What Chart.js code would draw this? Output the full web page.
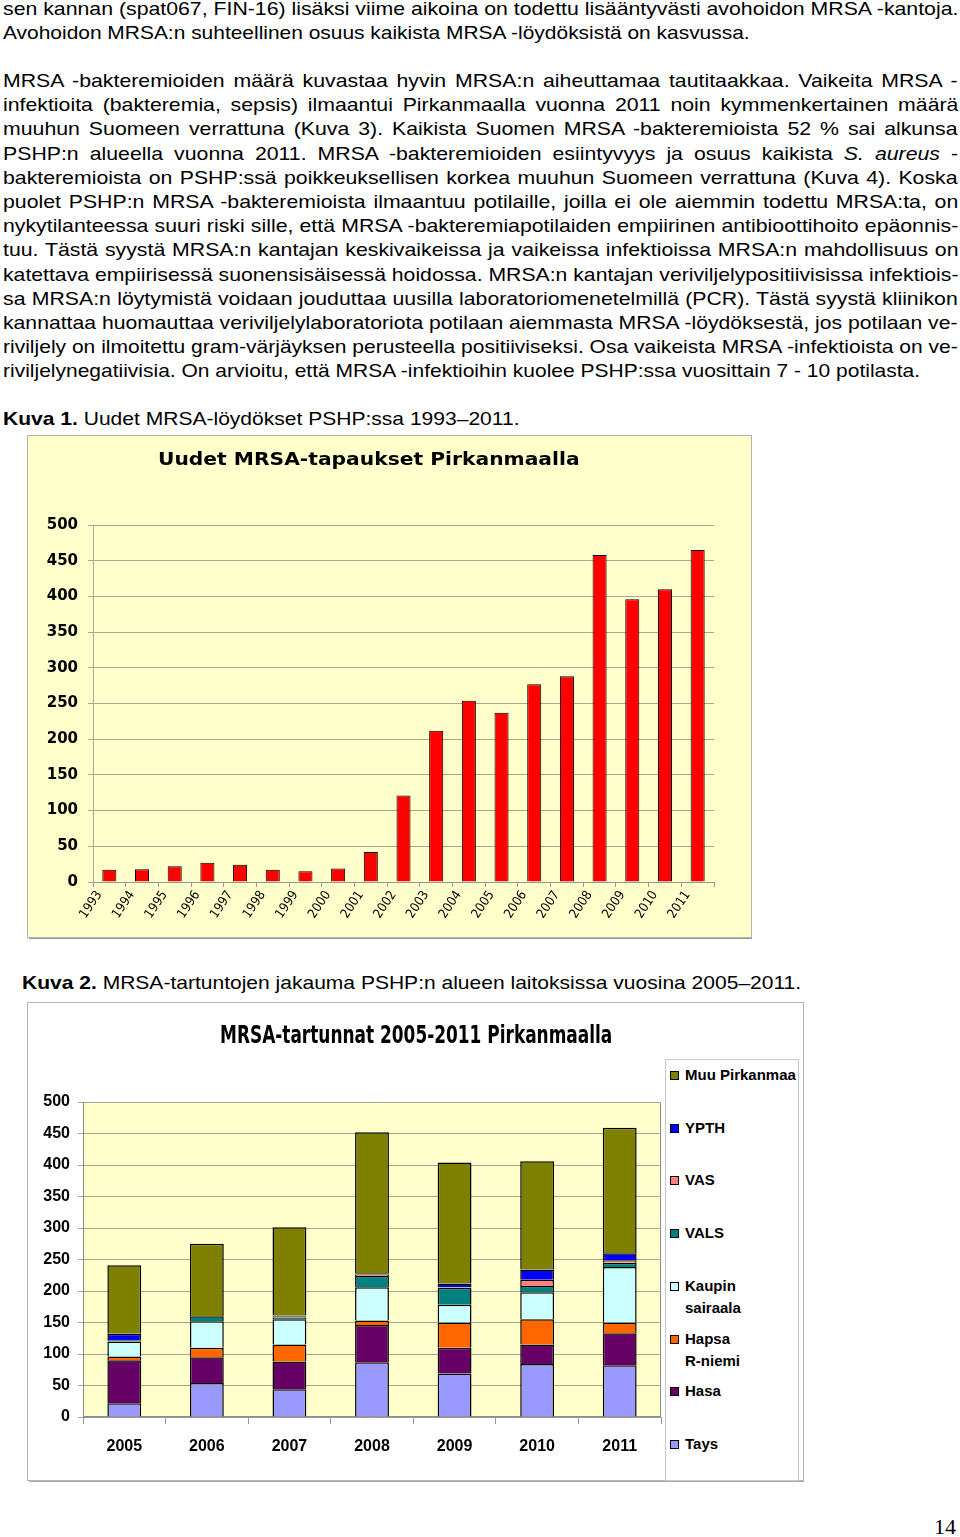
<!DOCTYPE html>
<html lang="fi">
<head>
<meta charset="utf-8">
<script src="https://cdn.jsdelivr.net/npm/chart.js@4.4.1/dist/chart.umd.min.js"></script>
<style>
html,body{margin:0;padding:0;background:#fff;}
body{width:960px;height:1537px;position:relative;overflow:hidden;font-family:"Liberation Sans",Arial,sans-serif;color:#000;}
.ln{position:absolute;left:3px;height:24px;line-height:24px;font-size:19px;white-space:nowrap;transform-origin:0 50%;}
#box1{position:absolute;left:28px;top:436px;width:723px;height:501px;background:#FFFFCC;outline:1px solid #b4b4b4;box-shadow:1px 2px 0 #999;}
#box2{position:absolute;left:28px;top:1003px;width:775px;height:477px;background:#fff;outline:1px solid #b4b4b4;box-shadow:1px 2px 0 #aaa;}
#title1{position:absolute;left:158px;top:448px;height:22px;line-height:22px;font-family:"DejaVu Sans",sans-serif;font-weight:bold;font-size:18px;white-space:nowrap;transform-origin:0 50%;}
#title2{position:absolute;left:220px;top:1020px;height:30px;line-height:30px;font-family:"Liberation Sans Narrow","Arial Narrow","DejaVu Sans Condensed",sans-serif;font-weight:bold;font-size:25px;white-space:nowrap;transform-origin:0 50%;}
#legend{position:absolute;left:666px;top:1060px;width:132px;height:420px;background:#fff;outline:1px solid #c8c8c8;}
.li{position:absolute;left:4px;font-family:"Liberation Sans",Arial,sans-serif;font-weight:bold;font-size:15px;line-height:22px;white-space:pre;}
.li i{position:absolute;left:0;top:7px;width:7px;height:7px;border:1px solid #000;}
.li span{display:block;margin-left:15px;}
#page{position:absolute;left:934px;top:1514px;font-family:"Liberation Serif","DejaVu Serif",serif;font-size:22px;line-height:26px;}
canvas{position:absolute;left:0;top:0;}
</style>
</head>
<body>
<div class="ln" id="first" data-w="955" style="top:-3px">sen kannan (spat067, FIN-16) lisäksi viime aikoina on todettu lisääntyvästi avohoidon MRSA -kantoja.</div>
<div class="ln" data-w="747" style="top:21px">Avohoidon MRSA:n suhteellinen osuus kaikista MRSA -löydöksistä on kasvussa.</div>
<div class="ln" data-w="955" data-j="1" style="top:69px">MRSA -bakteremioiden määrä kuvastaa hyvin MRSA:n aiheuttamaa tautitaakkaa. Vaikeita MRSA -</div>
<div class="ln" data-w="955" data-j="1" style="top:93px">infektioita (bakteremia, sepsis) ilmaantui Pirkanmaalla vuonna 2011 noin kymmenkertainen määrä</div>
<div class="ln" data-w="955" data-j="1" style="top:117px">muuhun Suomeen verrattuna (Kuva 3). Kaikista Suomen MRSA -bakteremioista 52 % sai alkunsa</div>
<div class="ln" data-w="955" data-j="1" style="top:142px">PSHP:n alueella vuonna 2011. MRSA -bakteremioiden esiintyvyys ja osuus kaikista <i>S. aureus</i> -</div>
<div class="ln" data-w="955" data-j="1" style="top:166px">bakteremioista on PSHP:ssä poikkeuksellisen korkea muuhun Suomeen verrattuna (Kuva 4). Koska</div>
<div class="ln" data-w="955" data-j="1" style="top:190px">puolet PSHP:n MRSA -bakteremioista ilmaantuu potilaille, joilla ei ole aiemmin todettu MRSA:ta, on</div>
<div class="ln" data-w="955" data-j="1" style="top:214px">nykytilanteessa suuri riski sille, että MRSA -bakteremiapotilaiden empiirinen antibioottihoito epäonnis-</div>
<div class="ln" data-w="955" data-j="1" style="top:238px">tuu. Tästä syystä MRSA:n kantajan keskivaikeissa ja vaikeissa infektioissa MRSA:n mahdollisuus on</div>
<div class="ln" data-w="955" data-j="1" style="top:263px">katettava empiirisessä suonensisäisessä hoidossa. MRSA:n kantajan veriviljelypositiivisissa infektiois-</div>
<div class="ln" data-w="955" data-j="1" style="top:287px">sa MRSA:n löytymistä voidaan jouduttaa uusilla laboratoriomenetelmillä (PCR). Tästä syystä kliinikon</div>
<div class="ln" data-w="955" data-j="1" style="top:311px">kannattaa huomauttaa veriviljelylaboratoriota potilaan aiemmasta MRSA -löydöksestä, jos potilaan ve-</div>
<div class="ln" data-w="955" data-j="1" style="top:335px">riviljely on ilmoitettu gram-värjäyksen perusteella positiiviseksi. Osa vaikeista MRSA -infektioista on ve-</div>
<div class="ln" data-w="917" style="top:359px">riviljelynegatiivisia. On arvioitu, että MRSA -infektioihin kuolee PSHP:ssa vuosittain 7 - 10 potilasta.</div>
<div class="ln" data-w="516" style="top:407px"><b>Kuva 1.</b> Uudet MRSA-löydökset PSHP:ssa 1993–2011.</div>

<div id="box1"><canvas id="c1" width="723" height="501"></canvas></div>
<div id="title1" data-w="422">Uudet MRSA-tapaukset Pirkanmaalla</div>

<div class="ln" data-w="779" style="top:971px;left:22px"><b>Kuva 2.</b> MRSA-tartuntojen jakauma PSHP:n alueen laitoksissa vuosina 2005–2011.</div>

<div id="box2"><canvas id="c2" width="775" height="477"></canvas></div>
<div id="title2" data-w="392">MRSA-tartunnat 2005-2011 Pirkanmaalla</div>
<div id="legend"></div>

<div id="page">14</div>

<script>
// Kuva 1: uudet MRSA-löydökset vuosittain
const years1 = ['1993','1994','1995','1996','1997','1998','1999','2000','2001','2002',
  '2003','2004','2005','2006','2007','2008','2009','2010','2011'];
const newCases = [17, 18, 22, 27, 24, 17, 15, 19, 42, 121, 212, 254, 237, 277, 288, 458, 396, 410, 465];

// Kuva 2: tartunnat laitoksittain
const years2 = ['2005','2006','2007','2008','2009','2010','2011'];
const tays   = [22, 54, 44, 87, 69, 84, 82];
const hasa   = [68, 41, 44, 59, 41, 31, 51];
const hapsa  = [6, 15, 27, 7, 40, 40, 17];
const kaupin = [24, 42, 40, 53, 28, 43, 88];
const vals   = [2, 8, 3, 18, 27, 10, 7];
const vas    = [0, 0, 1, 2, 1, 10, 4];
const ypth   = [10, 0, 2, 2, 6, 16, 11];
const muu    = [109, 115, 140, 224, 192, 172, 199];

const seriesNames  = ['Tays', 'Hasa', 'Hapsa\nR-niemi', 'Kaupin\nsairaala', 'VALS', 'VAS', 'YPTH', 'Muu Pirkanmaa'];
const seriesData   = [tays, hasa, hapsa, kaupin, vals, vas, ypth, muu];
const seriesColors = ['#9999FF', '#660066', '#FF6600', '#CCFFFF', '#008080', '#FF8080', '#0000FF', '#808000'];

const arialFam = "'Liberation Sans', Arial, sans-serif";

// fit the text lines to widths measured from the page;
// the first (full, unjustified) line gives the base horizontal stretch
const baseScale = 955 / document.getElementById('first').offsetWidth;
document.querySelectorAll('[data-w]').forEach(el => {
  const target = +el.dataset.w;
  const nat = el.offsetWidth;
  if (el.dataset.j) {
    const extra = target / baseScale - nat;
    if (extra >= 0) {
      const spaces = (el.textContent.match(/ /g) || []).length;
      el.style.wordSpacing = (extra / spaces) + 'px';
      el.style.transform = 'scaleX(' + baseScale + ')';
      return;
    }
  }
  el.style.transform = 'scaleX(' + (target / nat) + ')';
});

new Chart(document.getElementById('c1'), {
  type: 'bar',
  data: {
    labels: years1,
    datasets: [{
      label: 'Uudet MRSA-tapaukset',
      data: newCases,
      backgroundColor: '#FF0000',
      borderColor: '#000',
      borderWidth: 1,
      barPercentage: 0.43,
      categoryPercentage: 1
    }]
  },
  options: {
    responsive: false,
    animation: false,
    layout: { padding: { top: 89, right: 37, left: 0, bottom: 0 } },
    plugins: { legend: { display: false }, tooltip: { enabled: false } },
    scales: {
      x: {
        grid: { drawOnChartArea: false, tickLength: 5, color: '#999' },
        border: { color: '#999' },
        ticks: { minRotation: 56, maxRotation: 56, labelOffset: -10, padding: 1,
                 color: '#000', font: { family: 'DejaVu Sans Condensed', size: 13 } },
        afterFit(a) { a.height = 55; }
      },
      y: {
        min: 0, max: 500,
        ticks: { stepSize: 50, padding: 10, color: '#000',
                 font: { family: 'DejaVu Sans', size: 15, weight: 'bold' } },
        grid: { color: '#a8a890', tickLength: 5 },
        border: { color: '#a8a8a8' },
        afterFit(a) { a.width = 65; }
      }
    }
  }
});

const plotBg = {
  id: 'plotBg',
  beforeDraw(chart) {
    const { ctx, chartArea: a } = chart;
    ctx.save();
    ctx.fillStyle = '#FFFFCC';
    ctx.fillRect(a.left, a.top, a.right - a.left, a.bottom - a.top);
    ctx.strokeStyle = '#8c8c8c';
    ctx.lineWidth = 1;
    ctx.strokeRect(a.left + 0.5, a.top + 0.5, a.right - a.left - 1, a.bottom - a.top - 1);
    ctx.restore();
  }
};

new Chart(document.getElementById('c2'), {
  type: 'bar',
  data: {
    labels: years2,
    datasets: seriesNames.map((n, i) => ({
      label: n.replace('\n', ' '),
      data: seriesData[i],
      backgroundColor: seriesColors[i],
      borderColor: '#000',
      borderWidth: 1.5,
      barPercentage: 0.41,
      categoryPercentage: 1
    }))
  },
  options: {
    responsive: false,
    animation: false,
    layout: { padding: { top: 99, right: 142, left: 0, bottom: 0 } },
    plugins: { legend: { display: false }, tooltip: { enabled: false } },
    scales: {
      x: {
        stacked: true,
        grid: { drawOnChartArea: false, tickLength: 7, color: '#999' },
        border: { color: '#999' },
        ticks: { padding: 13, color: '#000', font: { family: arialFam, size: 16, weight: 'bold' } },
        afterFit(a) { a.height = 63; }
      },
      y: {
        stacked: true,
        min: 0, max: 500,
        ticks: { stepSize: 50, padding: 8, color: '#000',
                 font: { family: arialFam, size: 16, weight: 'bold' } },
        grid: { color: '#a8a890', tickLength: 5 },
        border: { color: '#8c8c8c' },
        afterFit(a) { a.width = 55; }
      }
    }
  },
  plugins: [plotBg]
});

// legend, top item = last series
const legend = document.getElementById('legend');
for (let k = seriesNames.length - 1, row = 0; k >= 0; k--, row++) {
  const item = document.createElement('div');
  item.className = 'li';
  item.style.top = (4 + row * 52.7) + 'px';
  item.innerHTML = '<i style="background:' + seriesColors[k] + '"></i><span></span>';
  item.querySelector('span').textContent = seriesNames[k];
  legend.appendChild(item);
}
</script>
</body>
</html>
